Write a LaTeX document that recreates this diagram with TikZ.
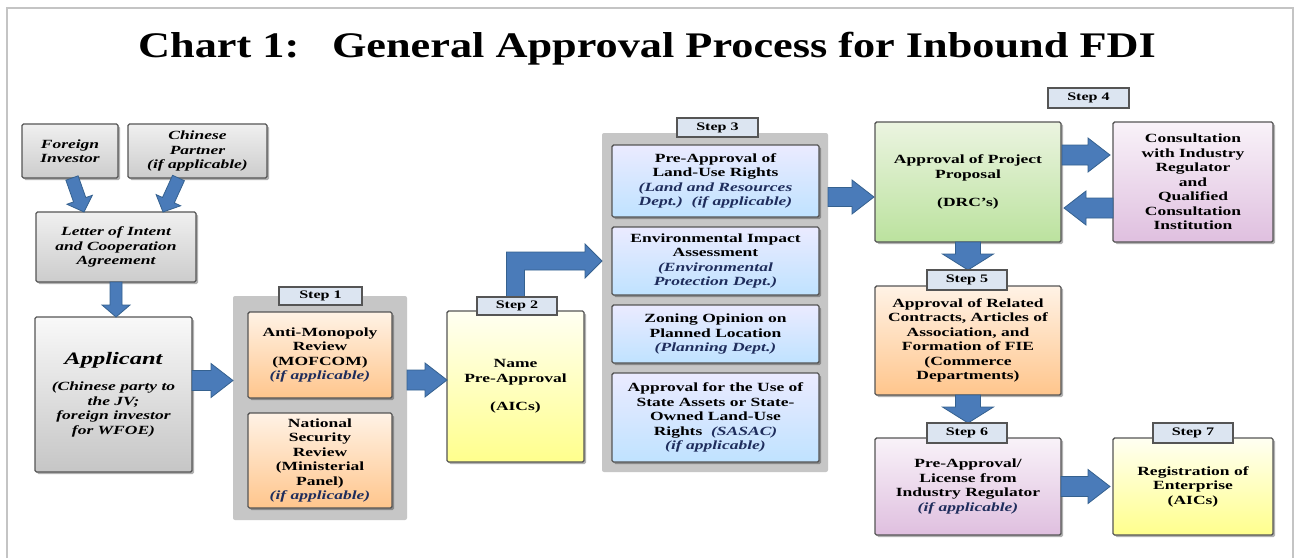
\documentclass[tikz,border=0pt]{standalone}
\usepackage{fontspec}
\setmainfont{Liberation Serif}[FakeStretch=1.4]
\newfontfamily\titlefont{Liberation Serif}[FakeStretch=1.23]
\usetikzlibrary{shadows,calc}
\definecolor{boxline}{HTML}{555555}
\definecolor{framec}{HTML}{C4C4C4}
\definecolor{panelgray}{HTML}{C6C6C6}
\definecolor{steplbl}{HTML}{DCE5F1}
\definecolor{arrfill}{HTML}{4A7BB9}
\definecolor{arrline}{HTML}{35618F}
\definecolor{itblue}{HTML}{1F2D5C}
\newcommand\bxfont{\fontsize{12.5}{14.5}\selectfont\bfseries}
\newcommand\ital[1]{\textit{\color{itblue}#1}}
\newcommand\barrow[5]{%
  \path[blockarrow] let \p1=#1, \p2=#2,
    \n1={atan2(\y2-\y1,\x2-\x1)}, \n2={veclen(\x2-\x1,\y2-\y1)} in
    ([shift={(\p1)},rotate=\n1]0pt,#3pt)
    -- ([shift={(\p1)},rotate=\n1]\n2*1pt-#5pt,#3pt)
    -- ([shift={(\p1)},rotate=\n1]\n2*1pt-#5pt,#4pt)
    -- ([shift={(\p1)},rotate=\n1]\n2*1pt,0pt)
    -- ([shift={(\p1)},rotate=\n1]\n2*1pt-#5pt,-#4pt)
    -- ([shift={(\p1)},rotate=\n1]\n2*1pt-#5pt,-#3pt)
    -- ([shift={(\p1)},rotate=\n1]0pt,-#3pt) -- cycle;}
\tikzset{
  box/.style={draw=boxline, line width=1.4pt, rounded corners=1.5pt, align=center,
    inner sep=2pt, outer sep=0pt, font=\bxfont,
    drop shadow={shadow xshift=2pt, shadow yshift=-2pt, opacity=0.3, fill=black}},
  graybox/.style={box, top color=gray!12, bottom color=gray!40, font=\bxfont\itshape},
  orangebox/.style={box, top color=orange!10, bottom color=orange!45!white},
  yellowbox/.style={box, top color=yellow!5, bottom color=yellow!45!white},
  bluebox/.style={box, top color=blue!8!white, bottom color=blue!45!cyan!25!white},
  greenbox/.style={box, top color=green!30!olive!12!white, bottom color=green!40!olive!38!white},
  purplebox/.style={box, top color=violet!5!white, bottom color=violet!25!white},
  panel/.style={fill=panelgray, rounded corners=2pt, outer sep=0pt, inner sep=0pt},
  steplabel/.style={draw=boxline, line width=1.2pt, fill=steplbl, outer sep=0pt,
    font=\fontsize{11.5}{13}\selectfont\bfseries, minimum width=80pt, minimum height=19pt, inner sep=0pt},
  blockarrow/.style={fill=arrfill, draw=arrline, line width=0.8pt, line join=miter},
}
\begin{document}
\begin{tikzpicture}[x=1pt,y=-1pt]
\useasboundingbox (0,0) rectangle (1294,558);
\fill[white] (0,0) rectangle (1294,558);
\draw[framec, line width=1.2pt] (7,558) -- (7,8) -- (1293,8) -- (1293,558);

\node[anchor=base, font=\titlefont\fontsize{36}{40}\selectfont\bfseries] (title) at (647,57)
  {Chart 1:\hspace{0.5em} General Approval Process for Inbound FDI};

% panels
\node[panel, minimum width=174pt, minimum height=224pt] (p1) at (320,408) {};
\node[panel, minimum width=226pt, minimum height=339pt] (p3) at (715,302.5) {};

% left column
\node[graybox, minimum width=96pt, minimum height=54pt] (fi) at (70,151) {Foreign\\Investor};
\node[graybox, minimum width=139pt, minimum height=54pt] (cp) at (197.5,151) {Chinese\\Partner\\(if applicable)};
\node[graybox, minimum width=160pt, minimum height=70pt] (loi) at (116,247) {Letter of Intent\\and Cooperation\\Agreement};
\node[graybox, top color=gray!5, bottom color=gray!45, minimum width=157pt, minimum height=155pt] (app) at (113.5,394.5)
  {{\fontsize{17.5}{20}\selectfont Applicant}\\[12pt](Chinese party to\\the JV;\\foreign investor\\for WFOE)};

% step 1
\node[orangebox, minimum width=144pt, minimum height=86pt] (am) at (320,355) {Anti-Monopoly\\Review\\(MOFCOM)\\\ital{(if applicable)}};
\node[orangebox, minimum width=144pt, minimum height=95pt] (ns) at (320,460.5) {National\\Security\\Review\\(Ministerial\\Panel)\\\ital{(if applicable)}};

% step 2
\node[yellowbox, minimum width=137pt, minimum height=151pt] (np) at (515.5,386.5) {Name\\Pre-Approval\\[14pt](AICs)};

% step 3
\node[bluebox, minimum width=207pt, minimum height=72pt] (lu) at (715.5,181) {Pre-Approval of\\Land-Use Rights\\\ital{(Land and Resources}\\\ital{Dept.)\ \ (if applicable)}};
\node[bluebox, minimum width=207pt, minimum height=68pt] (env) at (715.5,261) {Environmental Impact\\Assessment\\\ital{(Environmental}\\\ital{Protection Dept.)}};
\node[bluebox, minimum width=207pt, minimum height=58pt] (zon) at (715.5,334) {Zoning Opinion on\\Planned Location\\\ital{(Planning Dept.)}};
\node[bluebox, minimum width=207pt, minimum height=89pt] (sa) at (715.5,417.5) {Approval for the Use of\\State Assets or State-\\Owned Land-Use\\Rights\ \ \ital{(SASAC)}\\\ital{(if applicable)}};

% right part
\node[greenbox, minimum width=186pt, minimum height=120pt] (drc) at (968,182) {Approval of Project\\Proposal\\[14pt](DRC's)};
\node[purplebox, minimum width=160pt, minimum height=120pt] (con) at (1193,182) {Consultation\\with Industry\\Regulator\\and\\Qualified\\Consultation\\Institution};
\node[orangebox, minimum width=186pt, minimum height=109pt] (fie) at (968,340.5) {Approval of Related\\Contracts, Articles of\\Association, and\\Formation of FIE\\(Commerce\\Departments)};
\node[purplebox, minimum width=186pt, minimum height=97pt] (lic) at (968,486.5) {Pre-Approval/\\License from\\Industry Regulator\\\ital{(if applicable)}};
\node[yellowbox, minimum width=160pt, minimum height=97pt] (reg) at (1193,486.5) {Registration of\\Enterprise\\(AICs)};

% arrows
\barrow{($(fi.south)+(2,0)$)}{($(loi.north)+(-32,0)$)}{6.5}{13.5}{13}
\barrow{($(cp.south)+(-19,0)$)}{($(loi.north)+(47,0)$)}{6.5}{13.5}{13}
\barrow{(loi.south)}{(loi.south |- app.north)}{6}{14}{12}
\coordinate (a1) at ($(app.east)+(0,-14)$);
\barrow{(a1)}{(p1.west |- a1)}{10}{17}{22}
\coordinate (a2) at ($(p1.east)+(0,-28)$);
\barrow{(a2)}{(np.west |- a2)}{10}{17}{22}
\path[blockarrow] let \p1=(np.north), \p2=(p3.west |- env.center) in
  (\x1-9pt,\y1) -- (\x1-9pt,\y2+9pt) -- (\x2-17pt,\y2+9pt) -- (\x2-17pt,\y2+17pt)
  -- (\x2,\y2) -- (\x2-17pt,\y2-17pt) -- (\x2-17pt,\y2-9pt) -- (\x1+9pt,\y2-9pt)
  -- (\x1+9pt,\y1) -- cycle;
\coordinate (a3) at ($(p3.east |- lu.center)+(0,16)$);
\barrow{(a3)}{($(drc.west |- a3)+(-1,0)$)}{9.5}{17}{22}
\coordinate (a4) at ($(drc.east)+(1,-27)$);
\barrow{(a4)}{($(con.west |- a4)+(-3,0)$)}{10}{17}{22}
\coordinate (a5) at ($(con.west)+(0,26)$);
\barrow{(a5)}{($(drc.east |- a5)+(3,0)$)}{10}{17}{22}
\barrow{(drc.south)}{($(drc.south)+(0,28)$)}{12.5}{25.5}{16}
\barrow{(fie.south)}{($(fie.south)+(0,28)$)}{12.5}{25.5}{16}
\barrow{(lic.east)}{($(reg.west)+(-3,0)$)}{10}{17}{22}

% step labels
\node[steplabel, minimum width=83pt, minimum height=18pt] (s1) at (320.5,296) {Step 1};
\node[steplabel, minimum height=18pt] (s2) at (517,306) {Step 2};
\node[steplabel, minimum width=81pt] (s3) at (717.5,127.5) {Step 3};
\node[steplabel, minimum width=81pt, minimum height=20pt] (s4) at (1088.5,98) {Step 4};
\node[steplabel, minimum height=20pt] (s5) at (967,280) {Step 5};
\node[steplabel, minimum height=20pt] (s6) at (967,433) {Step 6};
\node[steplabel, minimum height=20pt] (s7) at (1193,433) {Step 7};
\end{tikzpicture}
\end{document}
